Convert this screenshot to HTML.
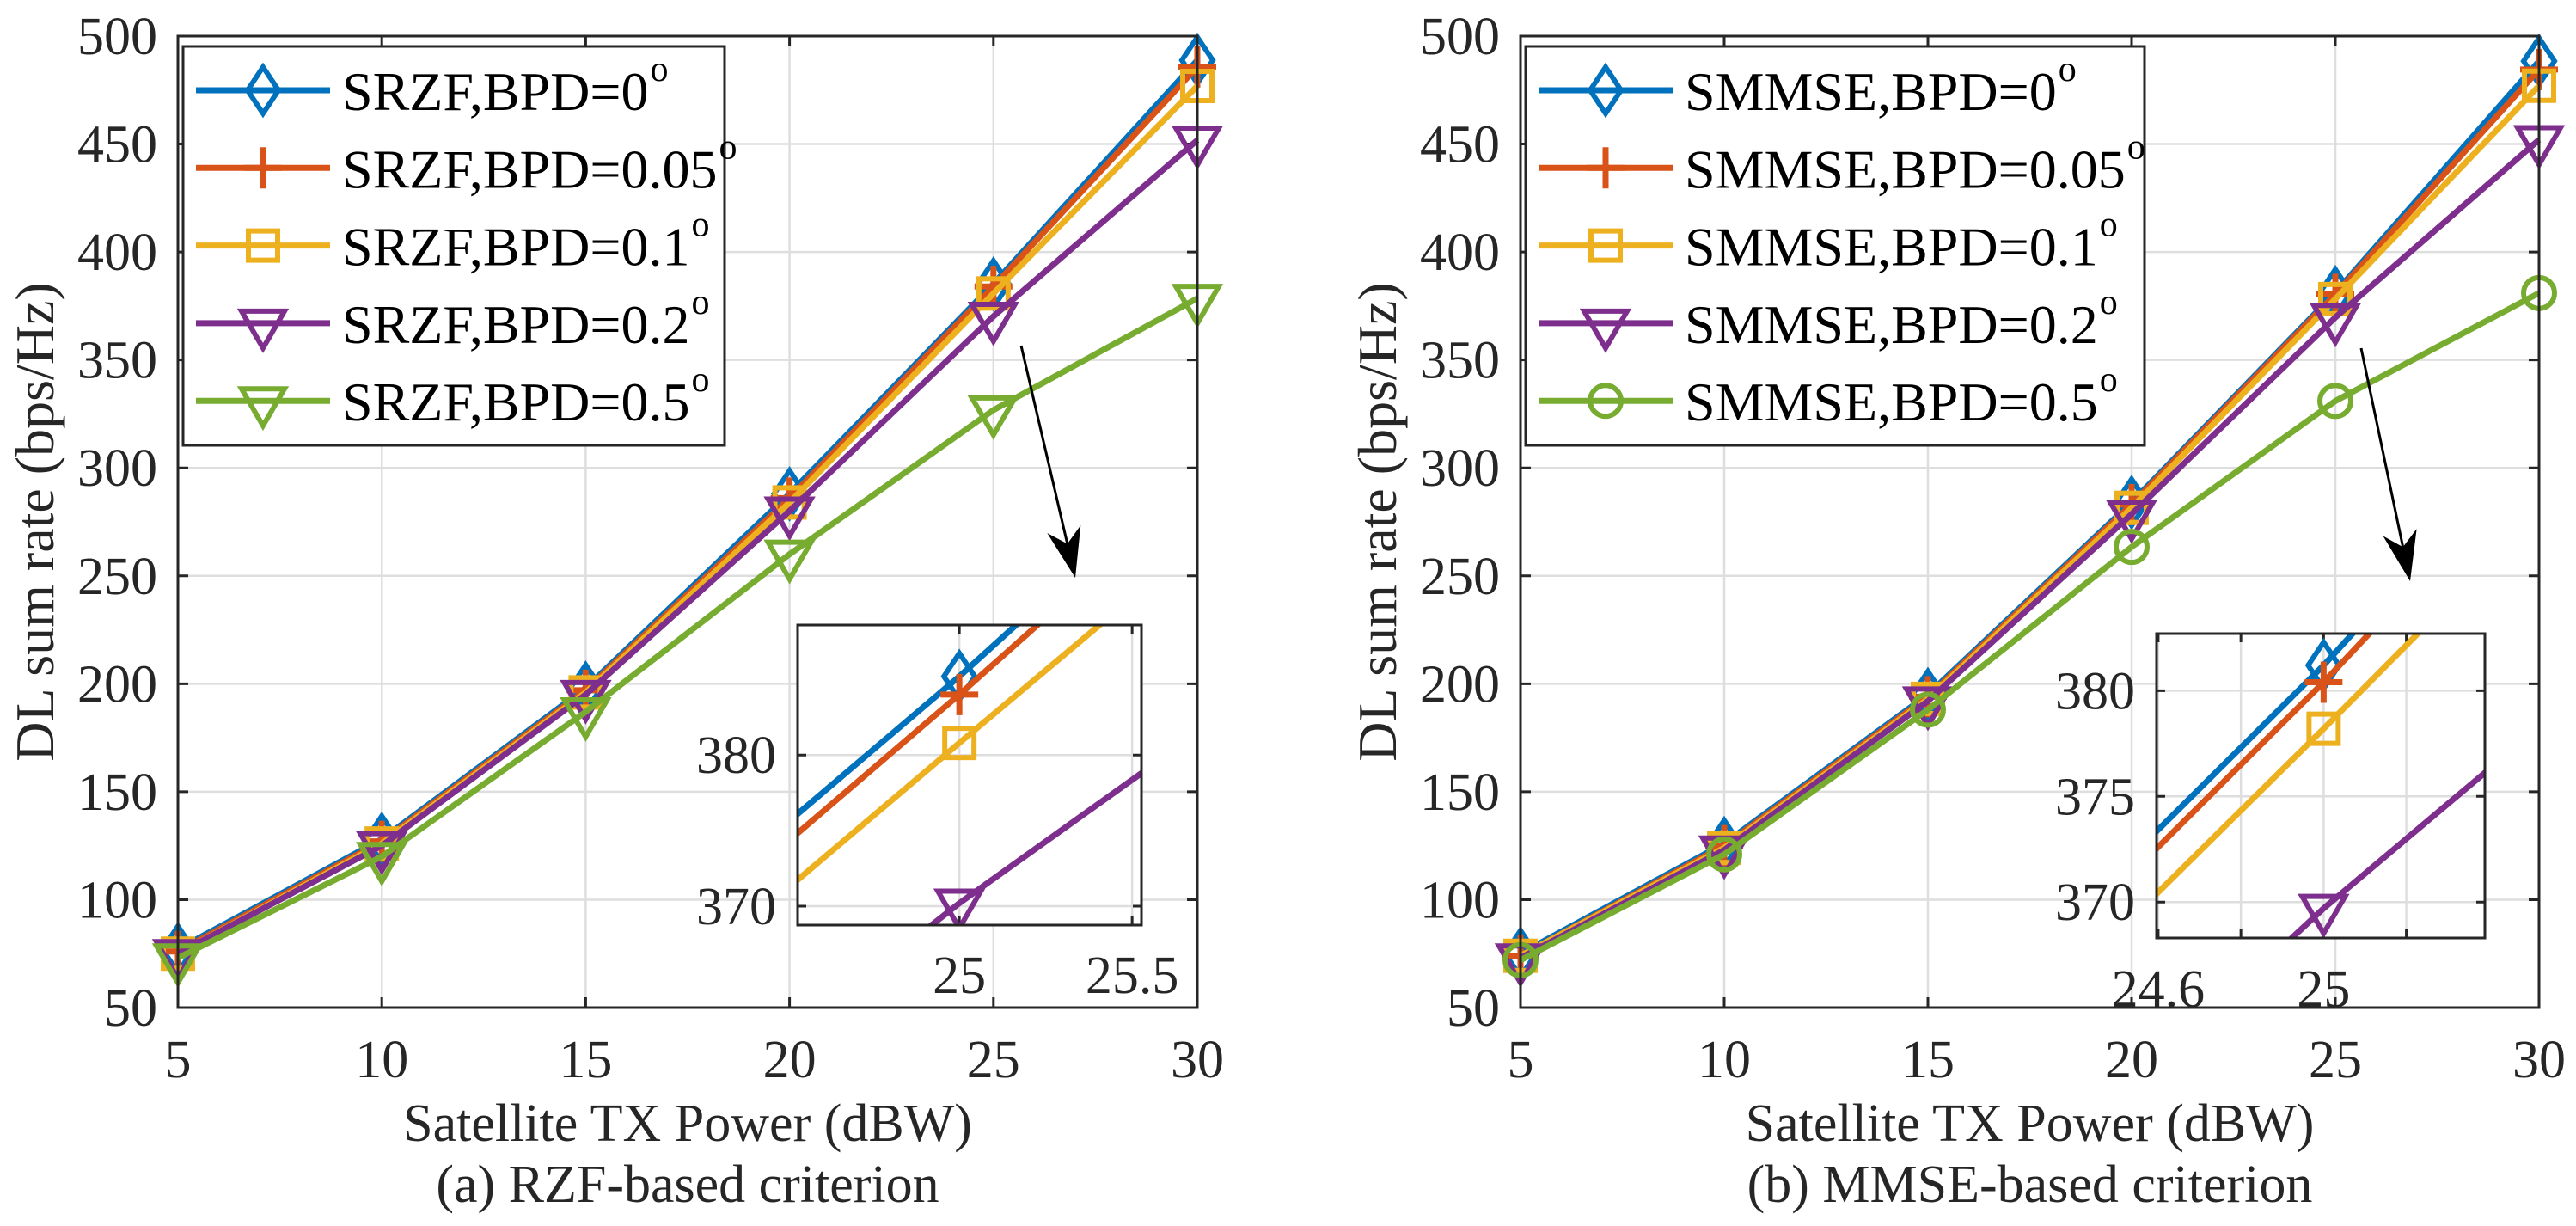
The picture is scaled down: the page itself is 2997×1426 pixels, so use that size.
<!DOCTYPE html>
<html><head><meta charset="utf-8"><style>
html,body{margin:0;padding:0;background:#fff;overflow:hidden;width:2997px;height:1426px;}
svg{display:block;font-family:"Liberation Serif","Times New Roman",serif;overflow:hidden;}
</style></head><body>
<svg id="fig" width="2997" height="1426" viewBox="0 0 2997 1426" xmlns="http://www.w3.org/2000/svg"></svg>
<script>
const xValues=[5,10,15,20,25,30];
const xTicks=[5,10,15,20,25,30];
const yTicks=[50,100,150,200,250,300,350,400,450,500];
const bpdLabels=["0","0.05","0.1","0.2","0.5"];
const rzf0=[77,128,198,288,385.2,488.8];
const rzf005=[76,127,197,286,384.0,485.7];
const rzf01=[75,126,196,284,380.8,476.9];
const rzf02=[75,125,195,280,370.2,451.8];
const rzf05=[73,120,187,260,326.8,378.5];
const mmse0=[75,126,195,284,381.2,488.4];
const mmse005=[74,125,194,283,380.4,484.5];
const mmse01=[74,124,193,281.5,378.2,477];
const mmse02=[73,123,192,278.6,369.7,452];
const mmse05=[72,121,188,263.4,331,381];
const insetAY=[370,380];
const insetAX=[25,25.5];
const insetBY=[370,375,380];
const insetBX=[24.6,24.8,25,25.2];
const insetBXLabels=["24.6","","25",""];

const colors=["#0072BD","#D95319","#EDB120","#7E2F8E","#77AC30"];
const NS="http://www.w3.org/2000/svg";
const svg=document.getElementById('fig');
function el(tag,attrs,parent){const e=document.createElementNS(NS,tag);for(const k in attrs)e.setAttribute(k,attrs[k]);(parent||svg).appendChild(e);return e;}

function marker(g,type,cx,cy,color){
  const sw=6;let m;
  if(type==='diamond'){m=el('polygon',{points:`${cx},${cy-27} ${cx+18},${cy} ${cx},${cy+27} ${cx-18},${cy}`,fill:'none',stroke:color,'stroke-width':sw},g);}
  else if(type==='plus'){m=el('path',{d:`M${cx-22},${cy}H${cx+22}M${cx},${cy-24}V${cy+24}`,stroke:color,'stroke-width':sw+1,fill:'none'},g);}
  else if(type==='square'){m=el('rect',{x:cx-17,y:cy-17,width:34,height:34,fill:'none',stroke:color,'stroke-width':sw},g);}
  else if(type==='tri'){m=el('polygon',{points:`${cx-25},${cy-14} ${cx+25},${cy-14} ${cx},${cy+29}`,fill:'none',stroke:color,'stroke-width':sw},g);}
  else {m=el('circle',{cx:cx,cy:cy,r:18,fill:'none',stroke:color,'stroke-width':sw},g);}
  
  
}

function arrow(x1,y1,x2,y2,name){
  const g=el('g',{});
  
  
  const dx=x2-x1,dy=y2-y1,L=Math.hypot(dx,dy),ux=dx/L,uy=dy/L,px=-uy,py=ux;
  const hl=58,hw=20,bx=x2-ux*hl,by=y2-uy*hl,nx=x2-ux*hl*0.7,ny=y2-uy*hl*0.7;
  el('line',{x1:x1,y1:y1,x2:nx,y2:ny,stroke:'#000','stroke-width':3},g);
  el('polygon',{points:`${x2},${y2} ${bx+px*hw},${by+py*hw} ${nx},${ny} ${bx-px*hw},${by-py*hw}`,fill:'#000'},g);
}

function panel(o){
  const {L,R,T,B,series,markers,prefix,legendW,ylabX,xlabel,caption,name}=o;
  const g=el('g',{});
  
  
  const sx=v=>L+(v-5)/25*(R-L);
  const sy=v=>B-(v-50)/450*(B-T);
  el('rect',{x:L,y:T,width:R-L,height:B-T,fill:'#fff'},g);
  xTicks.forEach(t=>{const l=el('line',{x1:sx(t),x2:sx(t),y1:T,y2:B,stroke:'#dedede','stroke-width':2.5},g);});
  yTicks.forEach(t=>{const l=el('line',{x1:L,x2:R,y1:sy(t),y2:sy(t),stroke:'#dedede','stroke-width':2.5},g);});
  xTicks.forEach(t=>{
    el('path',{d:`M${sx(t)},${B}v-12M${sx(t)},${T}v12`,stroke:'#262626','stroke-width':3},g);
    const tx=el('text',{x:sx(t),y:1253,'font-size':62,'text-anchor':'middle',fill:'#262626'},g);tx.textContent=t;
    
  });
  yTicks.forEach(t=>{
    el('path',{d:`M${L},${sy(t)}h12M${R},${sy(t)}h-12`,stroke:'#262626','stroke-width':3},g);
    const ty=el('text',{x:L-24,y:sy(t)+21,'font-size':62,'text-anchor':'end',fill:'#262626'},g);ty.textContent=t;
    
  });
  series.forEach((s,i)=>{
    const sg=el('g',{},g);
    
    
    const pts=s.map((v,k)=>`${sx(xValues[k])},${sy(v)}`).join(' ');
    el('polyline',{points:pts,fill:'none',stroke:colors[i],'stroke-width':7,'stroke-linejoin':'round'},sg);
    s.forEach((v,k)=>marker(sg,markers[i],sx(xValues[k]),sy(v),colors[i]));
  });
  el('rect',{x:L,y:T,width:R-L,height:B-T,fill:'none',stroke:'#262626','stroke-width':3},g);
  const lg=el('g',{},g);
  
  
  const lx=L+6,ly=T+12;
  el('rect',{x:lx,y:ly,width:legendW,height:464,fill:'#fff',stroke:'#262626','stroke-width':3},lg);
  bpdLabels.forEach((b,i)=>{
    const ry=105+i*90.3;
    const eg=el('g',{},lg);
    
    
    el('line',{x1:lx+15,x2:lx+171,y1:ry,y2:ry,stroke:colors[i],'stroke-width':7},eg);
    marker(eg,markers[i],lx+93,ry,colors[i]);
    const t=el('text',{x:lx+185,y:ry+23,'font-size':64,fill:'#000'},eg);
    t.textContent=prefix+',BPD='+b;
    const sup=el('tspan',{'font-size':42,dy:-34,dx:2},t);sup.textContent='o';
  });
  const yl=el('text',{x:ylabX,y:(T+B)/2,'font-size':64,'text-anchor':'middle',fill:'#262626',transform:`rotate(-90 ${ylabX} ${(T+B)/2})`},g);
  yl.textContent='DL sum rate (bps/Hz)';
  
  const xl=el('text',{x:(L+R)/2,y:1327,'font-size':62,'text-anchor':'middle',fill:'#262626'},g);
  xl.textContent=xlabel;
  
  const cp=el('text',{x:(L+R)/2,y:1398,'font-size':62,'text-anchor':'middle',fill:'#262626'},g);
  cp.textContent=caption;
  
  return {sx,sy};
}

function inset(o){
  const {L,R,T,B,x0,x1,y0,y1,series,markers,xt,xtl,yt,labelY,name,id}=o;
  const g=el('g',{});
  
  
  const sx=v=>L+(v-x0)/(x1-x0)*(R-L);
  const sy=v=>B-(v-y0)/(y1-y0)*(B-T);
  el('rect',{x:L,y:T,width:R-L,height:B-T,fill:'#fff'},g);
  const cp=el('clipPath',{id:id},g);
  el('rect',{x:L,y:T,width:R-L,height:B-T},cp);
  xt.forEach((t,i)=>{
    el('line',{x1:sx(t),x2:sx(t),y1:T,y2:B,stroke:'#dedede','stroke-width':2.5},g);
    el('path',{d:`M${sx(t)},${B}v-10M${sx(t)},${T}v10`,stroke:'#262626','stroke-width':3},g);
    const lab=xtl?xtl[i]:String(t);
    if(lab){const tx=el('text',{x:sx(t),y:labelY,'font-size':62,'text-anchor':'middle',fill:'#262626'},g);tx.textContent=lab;
      }
  });
  yt.forEach(t=>{
    el('line',{x1:L,x2:R,y1:sy(t),y2:sy(t),stroke:'#dedede','stroke-width':2.5},g);
    el('path',{d:`M${L},${sy(t)}h10M${R},${sy(t)}h-10`,stroke:'#262626','stroke-width':3},g);
    const ty=el('text',{x:L-25,y:sy(t)+21,'font-size':62,'text-anchor':'end',fill:'#262626'},g);ty.textContent=t;
    
  });
  const cg=el('g',{'clip-path':`url(#${id})`},g);
  series.forEach((s,i)=>{
    if(i===4)return;
    const sg=el('g',{},cg);
    
    
    el('polyline',{points:s.map((v,k)=>`${sx(xValues[k])},${sy(v)}`).join(' '),fill:'none',stroke:colors[i],'stroke-width':7},sg);
    s.forEach((v,k)=>marker(sg,markers[i],sx(xValues[k]),sy(v),colors[i]));
  });
  el('rect',{x:L,y:T,width:R-L,height:B-T,fill:'none',stroke:'#262626','stroke-width':3},g);
}

panel({L:207,R:1393,T:42,B:1172,series:[rzf0,rzf005,rzf01,rzf02,rzf05],markers:['diamond','plus','square','tri','tri'],prefix:'SRZF',legendW:630,ylabX:62,xlabel:'Satellite TX Power (dBW)',caption:'(a) RZF-based criterion',name:'rzf-chart'});
panel({L:1769,R:2954,T:42,B:1172,series:[mmse0,mmse005,mmse01,mmse02,mmse05],markers:['diamond','plus','square','tri','circle'],prefix:'SMMSE',legendW:720,ylabX:1624,xlabel:'Satellite TX Power (dBW)',caption:'(b) MMSE-based criterion',name:'mmse-chart'});
arrow(1188,402,1251,672,'zoom-arrow-a');
arrow(2747,405,2804,676,'zoom-arrow-b');
inset({L:928,R:1328,T:727,B:1076,x0:24.532,x1:25.527,y0:368.75,y1:388.6,series:[rzf0,rzf005,rzf01,rzf02,rzf05],markers:['diamond','plus','square','tri','tri'],xt:insetAX,xtl:null,yt:insetAY,labelY:1155,name:'rzf-inset',id:'clipA'});
inset({L:2509,R:2891,T:737,B:1091,x0:24.596,x1:25.39,y0:368.3,y1:382.7,series:[mmse0,mmse005,mmse01,mmse02,mmse05],markers:['diamond','plus','square','tri','circle'],xt:insetBX,xtl:insetBXLabels,yt:insetBY,labelY:1171,name:'mmse-inset',id:'clipB'});
</script>
</body></html>
